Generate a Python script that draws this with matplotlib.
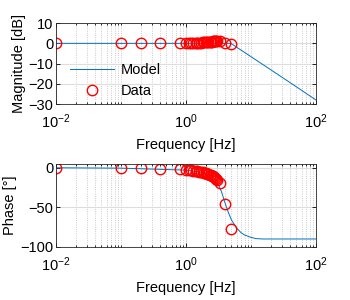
import matplotlib
matplotlib.use('Agg')
import matplotlib.pyplot as plt
from matplotlib.ticker import LogLocator, NullFormatter

plt.rcParams['font.family'] = ['Liberation Sans', 'DejaVu Sans']

# model curve
f_mag_model = [0.01, 0.1, 1, 2, 3, 4, 4.9, 6, 10, 20, 50, 100]
mag_model = [0, 0, 0, 0, 0, 0, 0, -1.9, -6.6, -13.0, -21.5, -28.0]

f_ph_model = [0.01, 0.1, 1, 1.5, 2, 2.5, 3, 3.5, 4, 4.5, 5, 6, 7, 8, 10, 12, 15, 20, 100]
ph_model = [0, -0.5, -3, -5, -7, -11, -17, -30, -45, -57, -66, -76, -82, -85, -88, -89.5, -90, -90, -90]

# measured points
f_data = [0.01, 0.1, 0.2, 0.4, 0.8,
          1.0, 1.1, 1.2, 1.3, 1.4, 1.5, 1.6, 1.7, 1.8, 1.9, 2.0,
          2.1, 2.2, 2.3, 2.4, 2.5, 2.6, 2.7, 2.8, 2.9, 3.0,
          3.3, 4.0, 4.9]
mag_data = [0, 0, 0, 0, 0,
            0.1, 0.1, 0.2, 0.2, 0.3, 0.3, 0.4, 0.4, 0.5, 0.5, 0.6,
            0.7, 0.7, 0.8, 0.8, 0.9, 1.0, 1.0, 1.1, 1.1, 1.2,
            1.0, 0.3, -0.5]
ph_data = [0, -0.3, -0.5, -1, -2,
           -2.5, -3, -3.3, -3.6, -4, -4.4, -4.8, -5.2, -5.7, -6.2, -6.8,
           -7.4, -8, -8.7, -9.4, -10.2, -11, -12, -13, -14, -15,
           -19, -46, -77]

blue = '#0072BD'
fig = plt.figure(figsize=(3.5, 3.0), dpi=100)
ax1 = fig.add_axes([0.16, 0.653, 0.743, 0.27])
ax2 = fig.add_axes([0.16, 0.177, 0.743, 0.277])

for ax in (ax1, ax2):
    ax.set_xscale('log')
    ax.set_xlim(0.01, 100)
    ax.set_xticks([0.01, 1, 100])
    ax.xaxis.set_minor_locator(LogLocator(base=10, subs=range(1, 10), numticks=20))
    ax.xaxis.set_minor_formatter(NullFormatter())
    ax.grid(True, which='major', color='#dddddd', linewidth=0.8)
    ax.grid(True, which='minor', axis='x', color='#bbbbbb', linestyle=':', linewidth=0.6)
    ax.tick_params(direction='in', which='both', top=True, right=True, labelsize=10.5, length=3, width=0.6)
    ax.tick_params(axis='x', which='major', pad=6)
    ax.tick_params(axis='y', which='major', pad=2)
    ax.tick_params(which='minor', length=1.5)
    for s in ax.spines.values():
        s.set_linewidth(0.6)
        s.set_color('#262626')
    ax.set_xlabel('Frequency [Hz]', fontsize=10.5, labelpad=5)
    ax.set_axisbelow(True)

ax1.plot(f_mag_model, mag_model, color=blue, linewidth=0.7, label='Model')
ax1.plot(f_data, mag_data, 'o', mfc='none', mec='red', ms=7.5, mew=1.0, label='Data')
ax1.set_ylim(-30, 10)
ax1.set_yticks([-30, -20, -10, 0, 10])
ax1.set_ylabel('Magnitude [dB]', fontsize=10.5, labelpad=2)
ax1.legend(loc='lower left', bbox_to_anchor=(0.02, -0.03), frameon=False, fontsize=10.5,
           handlelength=3.0, borderaxespad=0.2, labelspacing=0.45, handletextpad=0.5)

ax2.plot(f_ph_model, ph_model, color=blue, linewidth=0.7)
ax2.plot(f_data, ph_data, 'o', mfc='none', mec='red', ms=7.5, mew=1.0)
ax2.set_ylim(-100, 5)
ax2.set_yticks([-100, -50, 0])
ax2.set_ylabel('Phase [°]', fontsize=10.5, labelpad=2)

fig.savefig('out.png', dpi=100)
